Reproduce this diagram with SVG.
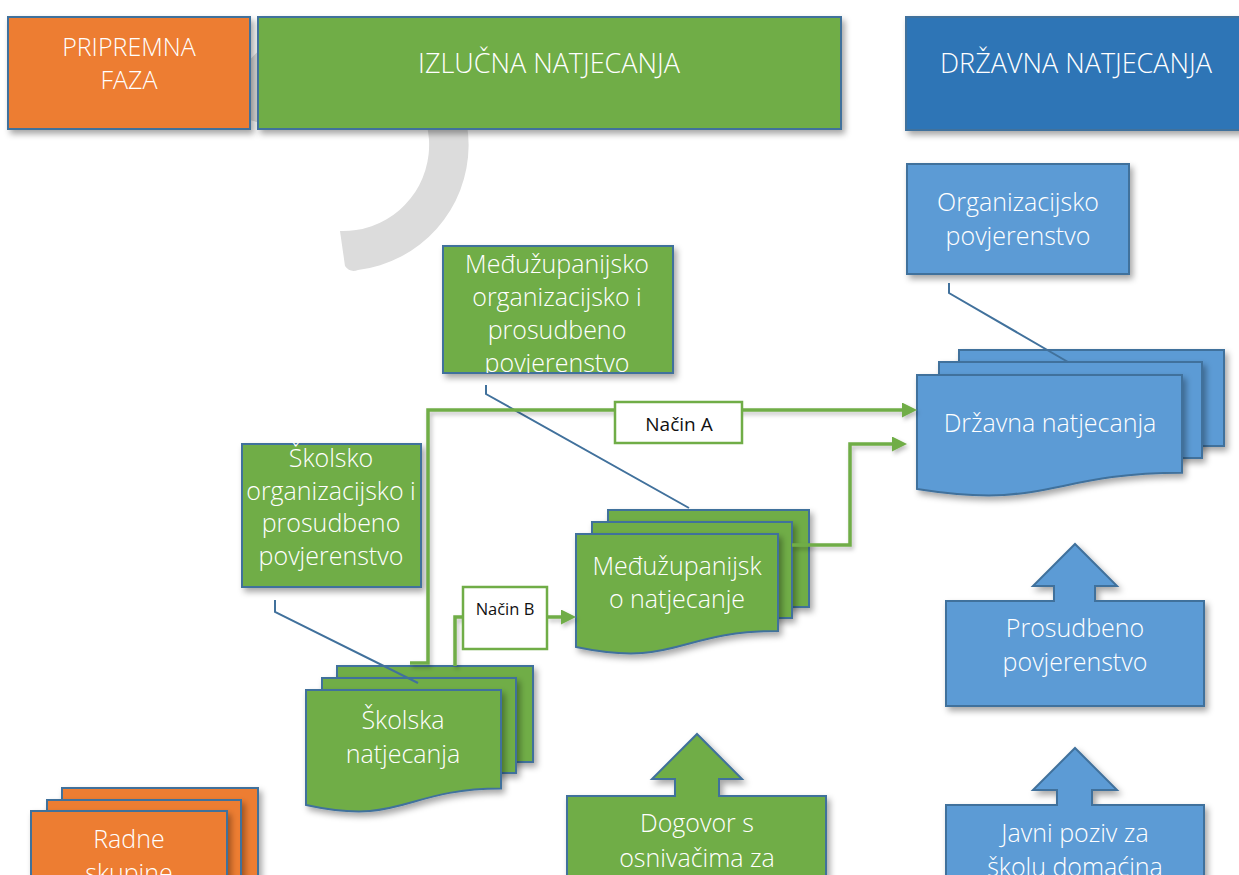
<svg xmlns="http://www.w3.org/2000/svg" width="1239" height="875" viewBox="0 0 1239 875">
<defs>
<style>
.t{font-family:"Segoe UI Light","Open Sans","Noto Sans",sans-serif;font-weight:300;font-size:25px;fill:#fff;text-anchor:middle}
.h{font-size:27px}
.lb{font-family:"Segoe UI","Open Sans","Noto Sans",sans-serif;font-size:19px;fill:#111;text-anchor:middle}
.or{fill:#ed7d31;stroke:#41719c;stroke-width:2}
.gr{fill:#70ad47;stroke:#41719c;stroke-width:2}
.db{fill:#2e75b6;stroke:#41719c;stroke-width:2}
.lb2{fill:#5b9bd5;stroke:#41719c;stroke-width:2}
.sh{filter:url(#sh)}
.cl{fill:none;stroke:#41719c;stroke-width:2}
.gl{fill:none;stroke:#70ad47;stroke-width:3.5}
.box{fill:#fff;stroke:#70ad47;stroke-width:2.5}
</style>
<filter id="sh" x="-10%" y="-10%" width="130%" height="140%">
<feDropShadow dx="3" dy="4" stdDeviation="3" flood-color="#000" flood-opacity="0.35"/>
</filter>
<filter id="shl" x="-10%" y="-10%" width="130%" height="140%">
<feDropShadow dx="2" dy="3" stdDeviation="2" flood-color="#000" flood-opacity="0.25"/>
</filter>
<marker id="ah" markerUnits="userSpaceOnUse" markerWidth="16" markerHeight="16" refX="0" refY="7.5" orient="auto">
<path d="M0,0 L15,7.5 L0,15 Z" fill="#70ad47"/>
</marker>
<clipPath id="c1"><rect x="443" y="246" width="230" height="127"/></clipPath>
</defs>
<rect width="1239" height="875" fill="#fff"/>

<g id="ring">
<path d="M221,112 A126,126 0 1 1 358,270 Q350,273 345,266 L340,231 A86,86 0 1 0 260,123 Z" fill="#dcdcdc"/>
</g>

<g id="hdr-pripremna">
<rect class="or sh" x="8" y="17" width="242" height="112"/>
<text class="t" x="129" y="56">PRIPREMNA</text>
<text class="t" x="129" y="89">FAZA</text>
</g>
<g id="hdr-izlucna">
<rect class="gr sh" x="258" y="17" width="583" height="112"/>
<text class="t h" x="549" y="73">IZLUČNA NATJECANJA</text>
</g>
<g id="hdr-drzavna">
<rect class="db sh" x="906" y="17" width="345" height="113"/>
<text class="t h" x="1076" y="73">DRŽAVNA NATJECANJA</text>
</g>

<g id="org-povj">
<rect class="lb2 sh" x="907" y="164" width="222" height="110"/>
<text class="t" x="1018" y="211">Organizacijsko</text>
<text class="t" x="1018" y="245">povjerenstvo</text>
</g>

<g id="medju-povj">
<rect class="gr sh" x="443" y="246" width="230" height="127"/>
<g clip-path="url(#c1)">
<text class="t" x="557" y="273">Međužupanijsko</text>
<text class="t" x="557" y="306">organizacijsko i</text>
<text class="t" x="557" y="339">prosudbeno</text>
<text class="t" x="557" y="372">povjerenstvo</text>
</g>
</g>

<g id="skolsko-povj">
<rect class="gr sh" x="242" y="444" width="179" height="143"/>
<text class="t" x="331" y="467">Školsko</text>
<text class="t" x="331" y="500">organizacijsko i</text>
<text class="t" x="331" y="532">prosudbeno</text>
<text class="t" x="331" y="565">povjerenstvo</text>
</g>

<g id="drzavna-natj">
<rect class="lb2 sh" x="959" y="350" width="265" height="96"/>
<rect class="lb2 sh" x="939" y="362" width="263" height="96"/>
<path class="lb2 sh" d="M917,375 H1182 V472.8 C1049.5,472.8 1049.5,510.1 917,489 Z"/>
<text class="t" x="1050" y="432">Državna natjecanja</text>
</g>

<g id="medju-natj">
<rect class="gr sh" x="608" y="510" width="201" height="97"/>
<rect class="gr sh" x="592" y="522" width="200" height="96"/>
<path class="gr sh" d="M576,534 H778 V631 C677,631 677,668 576,647 Z"/>
<text class="t" x="677" y="575">Međužupanijsk</text>
<text class="t" x="677" y="608">o natjecanje</text>
</g>

<g id="skolska-natj">
<rect class="gr sh" x="337" y="666" width="196" height="96"/>
<rect class="gr sh" x="322" y="678" width="194" height="95"/>
<path class="gr sh" d="M306,690 H501 V788.6 C403.5,788.6 403.5,826.2 306,804.9 Z"/>
<text class="t" x="403" y="729">Školska</text>
<text class="t" x="403" y="763">natjecanja</text>
</g>

<g id="prosudbeno">
<path class="lb2 sh" d="M946,601 H1054 V586 H1033 L1075,544 L1117,586 H1095 V601 H1204 V706 H946 Z"/>
<text class="t" x="1075" y="637">Prosudbeno</text>
<text class="t" x="1075" y="671">povjerenstvo</text>
</g>

<g id="javni-poziv">
<path class="lb2 sh" d="M946,805 H1057 V790 H1033 L1075,748 L1117,790 H1092 V805 H1204 V900 H946 Z"/>
<text class="t" x="1075" y="842">Javni poziv za</text>
<text class="t" x="1075" y="876">školu domaćina</text>
</g>

<g id="dogovor">
<path class="gr sh" d="M567,796 H675 V779 H652 L697,734 L742,779 H719 V796 H826 V900 H567 Z"/>
<text class="t" x="697" y="832">Dogovor s</text>
<text class="t" x="697" y="867">osnivačima za</text>
</g>

<g id="radne-skupine">
<rect class="or sh" x="62" y="788" width="196" height="110"/>
<rect class="or sh" x="47" y="800" width="194" height="100"/>
<rect class="or sh" x="31" y="811" width="196" height="90"/>
<text class="t" x="129" y="848">Radne</text>
<text class="t" x="129" y="882">skupine</text>
</g>

<g id="connectors">
<path class="cl" d="M949,283 V293 L1068,362"/>
<path class="cl" d="M486,385 V394 L689,508"/>
<path class="cl" d="M275,600 V612 L418,683"/>
<g filter="url(#shl)">
<path class="gl" d="M410,663 H428 V410 H902" marker-end="url(#ah)"/>
<path class="gl" d="M455,666 V617 H465"/>
<path class="gl" d="M547,617 H561" marker-end="url(#ah)"/>
<path class="gl" d="M792,545 H850 V444 H892" marker-end="url(#ah)"/>
</g>
<g id="label-a">
<rect class="box" x="615" y="402" width="127" height="41"/>
<text class="lb" x="679" y="431">Način A</text>
</g>
<g id="label-b">
<rect class="box" x="463" y="587" width="84" height="62"/>
<text class="lb" x="505" y="615" style="font-size:16.5px">Način B</text>
</g>
</g>
</svg>
